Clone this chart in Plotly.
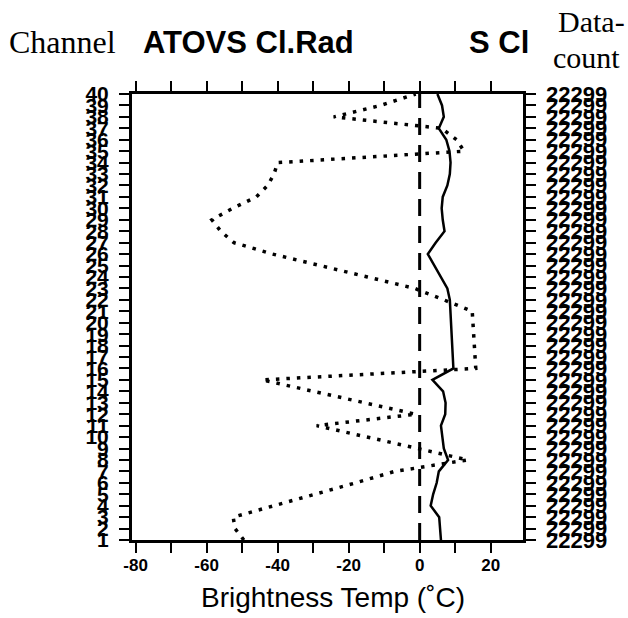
import plotly.graph_objects as go

channels = list(range(1, 41))
cl_rad = [-49.5, -52.0, -52.5, -41.0, -29.0, -18.0, -7.0, 13.5, -0.5, -14.8,
          -29.0, -1.1, -15.5, -29.9, -44.3, 15.8, 15.6, 15.4, 15.2, 15.0,
          14.8, 6.8, -1.4, -14.7, -28.0, -41.4, -52.3, -56.0, -58.5, -52.7,
          -46.0, -42.8, -41.0, -40.0, 12.5, 10.4, 6.2, -24.2, -11.0, -1.1]
s_cl = [6.0, 5.8, 5.5, 3.1, 3.8, 4.8, 5.4, 8.0, 6.8, 6.4,
        6.0, 7.2, 7.3, 6.6, 3.6, 9.5, 9.3, 9.2, 9.0, 8.8,
        8.7, 8.5, 7.8, 6.0, 4.0, 2.3, 4.5, 7.0, 6.5, 6.2,
        6.5, 7.8, 8.5, 8.7, 8.4, 7.5, 5.4, 6.8, 6.3, 5.0]
data_count = ["22299"] * 40
zero_x = [0, 0]
zero_y = [1, 40]
x_tickvals = [-80, -70, -60, -50, -40, -30, -20, -10, 0, 10, 20]
x_ticktext = ["-80", "", "-60", "", "-40", "", "-20", "", "0", "", "20"]

fig = go.Figure()
fig.add_trace(go.Scatter(x=zero_x, y=zero_y, mode="lines",
                         line=dict(color="black", width=3, dash="17px,10px"),
                         showlegend=False, hoverinfo="skip"))
fig.add_trace(go.Scatter(x=cl_rad, y=channels, mode="lines",
                         line=dict(color="black", width=3.5, dash="3.5px,7px"),
                         showlegend=False))
fig.add_trace(go.Scatter(x=s_cl, y=channels, mode="lines",
                         line=dict(color="black", width=2.5),
                         showlegend=False))
fig.add_trace(go.Scatter(x=[None], y=[None], yaxis="y2", showlegend=False))

L, R, T, B = 132, 105, 94, 78
W, H = 628, 618
pw, ph = W - L - R, H - T - B

def px(xp):
    return (xp - L) / pw

def py(yp):
    return (H - B - yp) / ph

sans = "Liberation Sans"
narrow = "Liberation Sans Narrow, Liberation Sans"
serif = "Liberation Serif"

fig.update_layout(
    width=W, height=H,
    margin=dict(l=L, r=R, t=T, b=B),
    paper_bgcolor="white", plot_bgcolor="white",
    xaxis=dict(range=[-81, 29.1], tickmode="array", tickvals=x_tickvals,
               ticktext=x_ticktext, ticks="outside", ticklen=10, tickwidth=2,
               tickcolor="black", showline=True, linewidth=3, linecolor="black",
               mirror="allticks", showgrid=False, zeroline=False,
               ticklabelstandoff=-2,
               tickfont=dict(family=sans, size=17, color="black", weight="bold")),
    yaxis=dict(range=[1, 40], tickmode="array", tickvals=channels,
               ticktext=[str(c) for c in channels], ticks="outside", ticklen=10,
               tickwidth=2, tickcolor="black", showline=True, linewidth=3,
               linecolor="black", mirror="allticks", showgrid=False, zeroline=False,
               ticklabelstandoff=6,
               tickfont=dict(family=narrow, size=21, color="black", weight="bold")),
    yaxis2=dict(range=[1, 40], overlaying="y", side="right", anchor="x",
                tickmode="array", tickvals=channels, ticktext=data_count,
                ticks="", showline=False, showgrid=False, zeroline=False,
                ticklabelstandoff=22,
                tickfont=dict(family=narrow, size=22, color="black", weight="bold")),
    annotations=[
        dict(text="Channel", x=px(62), y=py(42), xref="paper", yref="paper",
             showarrow=False, xanchor="center", yanchor="middle",
             font=dict(family=serif, size=32, color="black")),
        dict(text="ATOVS Cl.Rad", x=px(248), y=py(42), xref="paper", yref="paper",
             showarrow=False, xanchor="center", yanchor="middle",
             font=dict(family=sans, size=31, color="black", weight="bold")),
        dict(text="S Cl", x=px(499), y=py(42), xref="paper", yref="paper",
             showarrow=False, xanchor="center", yanchor="middle",
             font=dict(family=sans, size=31, color="black", weight="bold")),
        dict(text="Data-", x=px(591), y=py(22), xref="paper", yref="paper",
             showarrow=False, xanchor="center", yanchor="middle",
             font=dict(family=serif, size=30, color="black")),
        dict(text="count", x=px(586), y=py(57), xref="paper", yref="paper",
             showarrow=False, xanchor="center", yanchor="middle",
             font=dict(family=serif, size=30, color="black")),
        dict(text="Brightness Temp (˚C)", x=px(333), y=py(597), xref="paper",
             yref="paper", showarrow=False, xanchor="center", yanchor="middle",
             font=dict(family=sans, size=28, color="black")),
    ],
)

fig.write_html("out.html")
